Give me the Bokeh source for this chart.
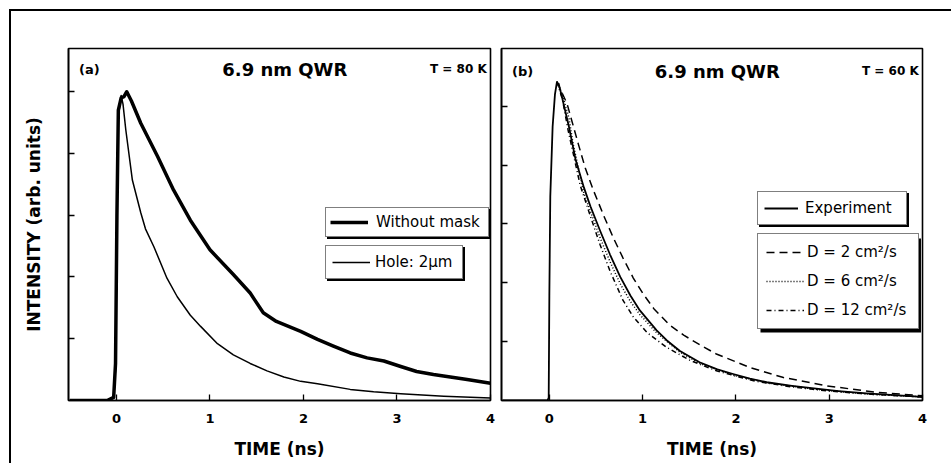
from bokeh.plotting import figure
from bokeh.layouts import row
from bokeh.models import (Range1d, FixedTicker, Legend, LegendItem, Label, BoxAnnotation,
                          ColumnDataSource, InlineStyleSheet, CustomJSTickFormatter)
from bokeh.embed import file_html
from bokeh.resources import INLINE

# ---------------- data ----------------
# panel (a): T = 80 K
a_nomask_t = [-0.5, -0.1, -0.03, -0.01, 0.005, 0.02, 0.05, 0.08, 0.11, 0.16, 0.26, 0.44, 0.61,
              0.79, 1.0, 1.25, 1.43, 1.57, 1.71, 1.97, 2.15, 2.32, 2.5, 2.68, 2.86, 3.04,
              3.21, 3.39, 3.57, 3.75, 4.0]
a_nomask_v = [0, 0, 0.05, 0.6, 3.0, 4.7, 4.9, 4.92, 5.0, 4.85, 4.49, 3.95, 3.41,
              2.92, 2.44, 2.04, 1.74, 1.42, 1.28, 1.12, 0.99, 0.88, 0.77, 0.69, 0.64, 0.55,
              0.47, 0.42, 0.38, 0.34, 0.28]
a_hole_t = [-0.5, -0.1, -0.03, -0.01, 0.005, 0.02, 0.05, 0.07, 0.10, 0.17, 0.26, 0.31, 0.40,
            0.54, 0.65, 0.79, 0.90, 1.08, 1.25, 1.43, 1.61, 1.79, 1.97, 2.15, 2.5, 2.75,
            3.04, 3.5, 4.0]
a_hole_v = [0, 0, 0.04, 0.5, 2.9, 4.6, 4.94, 4.8, 4.38, 3.57, 3.04, 2.78, 2.49,
            1.98, 1.68, 1.38, 1.20, 0.92, 0.74, 0.60, 0.48, 0.38, 0.31, 0.27, 0.18, 0.14,
            0.11, 0.07, 0.04]

# panel (b): T = 60 K
b_exp_t = [-0.5, -0.02, -0.007, 0.0, 0.01, 0.035, 0.06, 0.08, 0.1, 0.136, 0.21, 0.28, 0.37,
           0.44, 0.545, 0.65, 0.76, 0.87, 0.97, 1.15, 1.26, 1.4, 1.61, 1.8, 1.97, 2.15,
           2.33, 2.6, 2.86, 3.1, 3.4, 3.7, 4.0]
b_exp_v = [0, 0, 0.05, 1.8, 3.46, 4.65, 5.2, 5.4, 5.38, 5.15, 4.65, 4.1, 3.62,
           3.3, 2.88, 2.48, 2.1, 1.78, 1.53, 1.19, 1.02, 0.84, 0.65, 0.53, 0.45, 0.37,
           0.31, 0.25, 0.2, 0.16, 0.12, 0.09, 0.06]
b_d2_t = [0.08, 0.19, 0.31, 0.385, 0.47, 0.58, 0.69, 0.79, 0.9, 1.01, 1.12, 1.29, 1.44,
          1.62, 1.79, 2.15, 2.51, 2.97, 3.5, 4.0]
b_d2_v = [5.42, 5.04, 4.36, 3.95, 3.58, 3.15, 2.75, 2.42, 2.08, 1.8, 1.56, 1.28, 1.11,
          0.94, 0.79, 0.56, 0.39, 0.25, 0.14, 0.08]
b_d6_t = [0.08, 0.14, 0.21, 0.25, 0.37, 0.545, 0.65, 0.76, 0.87, 0.97, 1.15, 1.4, 1.61,
          1.97, 2.33, 2.86, 3.4, 4.0]
b_d6_v = [5.42, 5.2, 4.8, 4.4, 3.52, 2.76, 2.36, 1.98, 1.68, 1.46, 1.15, 0.82, 0.63,
          0.43, 0.3, 0.19, 0.11, 0.06]
b_d12_t = [0.08, 0.14, 0.2, 0.33, 0.44, 0.545, 0.65, 0.79, 0.9, 1.05, 1.26, 1.51, 1.8,
           2.2, 2.6, 3.0, 3.5, 4.0]
b_d12_v = [5.42, 5.12, 4.6, 3.66, 3.13, 2.64, 2.2, 1.7, 1.42, 1.15, 0.9, 0.68, 0.5,
           0.33, 0.23, 0.16, 0.1, 0.06]

x_ticks = [0, 1, 2, 3, 4]
y_ticks = [1, 2, 3, 4, 5]
panel_titles = ["6.9 nm QWR", "6.9 nm QWR"]
panel_tags = ["(a)", "(b)"]
panel_temps = ["T = 80 K", "T = 60 K"]
x_label = "TIME (ns)"
y_label = "INTENSITY (arb. units)"

BOLD = "DejaVu Sans"
ROW_H = 20


def style(p, ylabel):
    p.toolbar_location = None
    p.grid.visible = False
    p.outline_line_color = "black"
    p.outline_line_width = 1.6
    p.background_fill_color = "white"
    p.border_fill_color = "white"
    p.xaxis.ticker = FixedTicker(ticks=x_ticks)
    p.yaxis.ticker = FixedTicker(ticks=y_ticks)
    for ax in (p.xaxis[0], p.yaxis[0]):
        ax.axis_line_color = "black"
        ax.axis_line_width = 1.6
        ax.major_tick_in = 6
        ax.major_tick_out = 0
        ax.major_tick_line_color = "black"
        ax.major_tick_line_width = 1.3
        ax.minor_tick_line_color = None
    xa = p.xaxis[0]
    xa.major_label_text_font = BOLD
    xa.major_label_text_font_style = "bold"
    xa.major_label_text_font_size = "13px"
    xa.major_label_text_color = "black"
    xa.major_label_standoff = 13
    xa.axis_label = x_label
    xa.axis_label_text_font = BOLD
    xa.axis_label_text_font_style = "bold"
    xa.axis_label_text_font_size = "17px"
    xa.axis_label_text_color = "black"
    xa.axis_label_standoff = 13
    ya = p.yaxis[0]
    ya.formatter = CustomJSTickFormatter(code="return ''")
    ya.major_label_text_font_size = "0px"
    ya.major_label_standoff = 0
    if ylabel:
        ya.axis_label = ylabel
        ya.axis_label_text_font = BOLD
        ya.axis_label_text_font_style = "bold"
        ya.axis_label_text_font_size = "17px"
        ya.axis_label_text_color = "black"
        ya.axis_label_standoff = 25


def add_legend(p, items, loc, padding, spacing, glyph_w, standoff, label_w, box_shadow=None):
    common = dict(orientation="vertical", padding=padding,
                  glyph_width=glyph_w, label_width=label_w,
                  label_standoff=standoff, label_text_font="DejaVu Sans",
                  label_text_font_size="15px", margin=0,
                  border_line_color="black", border_line_width=1.5,
                  background_fill_alpha=1.0)
    if box_shadow is None:
        # drop shadow: a single empty item the size of the real legend
        shadow = Legend(items=[LegendItem(label="", renderers=items[0][1])],
                        location=(loc[0] + 2, loc[1] - 2), spacing=0,
                        glyph_height=ROW_H, label_height=ROW_H,
                        label_text_color="black", background_fill_color="black", **common)
        p.add_layout(shadow, "center")
    else:
        p.add_layout(box_shadow)
    main = Legend(items=[LegendItem(label=l, renderers=r) for l, r in items],
                  location=loc, spacing=spacing, glyph_height=ROW_H, label_height=ROW_H,
                  label_text_color="black", background_fill_color="white", **common)
    p.add_layout(main, "center")


def add_texts(p, i, ytxt):
    p.add_layout(Label(x=-0.40, y=ytxt, text=panel_tags[i], text_font=BOLD,
                       text_font_style="bold", text_font_size="13px", text_color="black",
                       text_baseline="middle", text_align="left"))
    p.add_layout(Label(x=1.8, y=ytxt, text=panel_titles[i], text_font=BOLD,
                       text_font_style="bold", text_font_size="18px", text_color="black",
                       text_baseline="middle", text_align="center"))
    p.add_layout(Label(x=3.96, y=ytxt, text=panel_temps[i], text_font=BOLD,
                       text_font_style="bold", text_font_size="12px", text_color="black",
                       text_baseline="middle", text_align="right"))


# ---------------- panel (a) ----------------
pa = figure(width=496, height=463, output_backend="svg", toolbar_location=None,
            x_range=Range1d(-0.513, 4.0), y_range=Range1d(0, 5.70),
            min_border_left=68, min_border_right=6, min_border_top=48, min_border_bottom=62)
style(pa, y_label)
src_nomask = ColumnDataSource(dict(t=a_nomask_t, v=a_nomask_v))
src_hole = ColumnDataSource(dict(t=a_hole_t, v=a_hole_v))
r_hole = pa.line("t", "v", source=src_hole, line_color="black", line_width=1.5,
                 line_join="round")
r_nomask = pa.line("t", "v", source=src_nomask, line_color="black", line_width=3.5,
                   line_join="round")
add_legend(pa, [("Without mask", [r_nomask])], (257, 163), 4, 0, 38, 8, 108)
add_legend(pa, [("Hole: 2\u00b5m", [r_hole])], (257, 121), 6, 0, 38, 5, 81)
add_texts(pa, 0, 5.36)

# ---------------- panel (b) ----------------
pb = figure(width=455, height=463, output_backend="svg", toolbar_location=None,
            x_range=Range1d(-0.513, 4.0), y_range=Range1d(0, 5.98),
            min_border_left=5, min_border_right=29, min_border_top=46, min_border_bottom=63)
style(pb, None)
r_exp = pb.line(b_exp_t, b_exp_v, line_color="black", line_width=1.8, line_join="round")
r_d2 = pb.line(b_d2_t, b_d2_v, line_color="black", line_width=1.5, line_dash="8 5")
r_d6 = pb.line(b_d6_t, b_d6_v, line_color="black", line_width=1.5, line_dash="1 2")
r_d12 = pb.line(b_d12_t, b_d12_v, line_color="black", line_width=1.5, line_dash="5 3 1 3")
add_legend(pb, [("Experiment", [r_exp])], (256, 175), 6, 0, 34, 7, 95)
# shadow box behind the three-row legend (frame: 93.29 px/ns, 59.2 px/unit)
d_shadow = BoxAnnotation(left=-0.513 + 259 / 93.29, right=-0.513 + 419.5 / 93.29,
                         bottom=-2.5 / 59.2 + 71 / 59.2, top=(71 + 92) / 59.2,
                         fill_color="black", fill_alpha=1.0, line_color=None)
add_legend(pb, [("D = 2 cm\u00b2/s", [r_d2]), ("D = 6 cm\u00b2/s", [r_d6]),
                ("D = 12 cm\u00b2/s", [r_d12])], (256, 71), 8, 9, 38, 3, 103,
           box_shadow=d_shadow)
add_texts(pb, 1, 5.59)

css = InlineStyleSheet(css="""
:host { position: relative; }
:host::after { content: ''; position: absolute; left: 9px; top: 9px; width: 1000px; height: 1000px;
  border-left: 2px solid black; border-top: 2px solid black; pointer-events: none; z-index: 10; }
""")
layout = row(pa, pb, stylesheets=[css])

open("out.html", "w").write(file_html(layout, INLINE))
